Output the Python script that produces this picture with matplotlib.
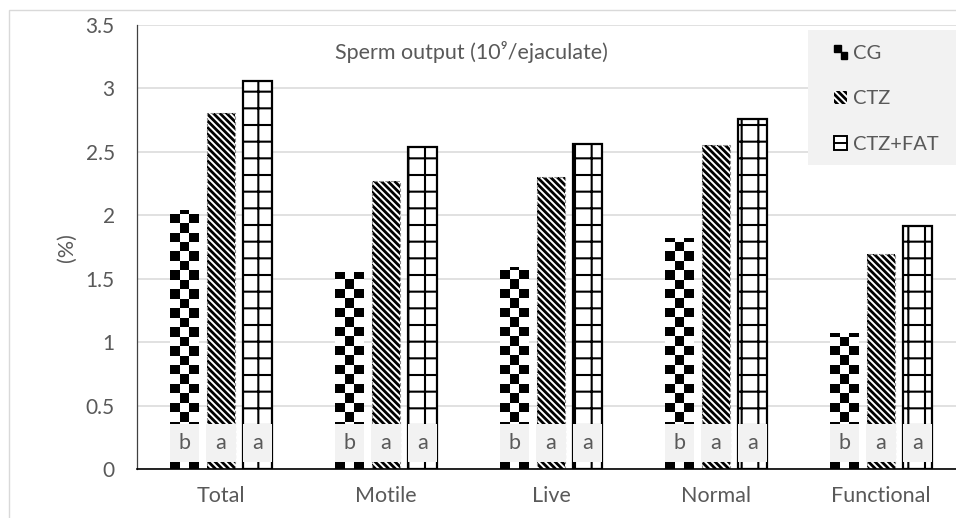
import matplotlib as mpl
mpl.use("Agg")
import matplotlib.pyplot as plt
import numpy as np
from matplotlib.colors import ListedColormap
from matplotlib.patches import Rectangle, Patch
from matplotlib.legend_handler import HandlerBase
from matplotlib.lines import Line2D

# data
CATEGORIES = ["Total", "Motile", "Live", "Normal", "Functional"]
CG = [2.04, 1.556, 1.595, 1.824, 1.071]
CTZ = [2.81, 2.27, 2.30, 2.554, 1.695]
CTZ_FAT = [3.06, 2.535, 2.56, 2.758, 1.918]
SERIES = ["CG", "CTZ", "CTZ+FAT"]
LETTERS = [["b", "a", "a"]] * 5
TITLE = "Sperm output (10\u2079/ejaculate)"

GREY = "#595959"
plt.rcParams["font.family"] = ["Lato", "DejaVu Sans"]
FS = 15.5
STRIPES = "\\" * 5


def hatch_lw(patches, lw):
    for p in patches:
        if hasattr(p, "set_hatch_linewidth"):
            p.set_hatch_linewidth(lw)


W, H = 956, 518
fig = plt.figure(figsize=(W / 100, H / 100), dpi=100)
ax = fig.add_axes([137 / W, 1 - 469.3 / H, (W - 137) / W, (469.3 - 25) / H])

x = np.arange(len(CATEGORIES))
off, bw = 0.2227, 0.173
CHECK_H = 0.0745

# CG: white bars filled with a checkerboard clipped to each bar
cg_bars = ax.bar(x - off, CG, bw, color="white", linewidth=0, zorder=2)
cmap = ListedColormap(["white", "black"])
for bar, h in zip(cg_bars, CG):
    nrow = int(np.ceil(h / CHECK_H))
    board = (np.add.outer(np.arange(nrow), np.arange(3)) + 1) % 2
    x0 = bar.get_x()
    im = ax.imshow(board, cmap=cmap, extent=(x0, x0 + bw, 0, nrow * CHECK_H),
                   origin="lower", aspect="auto", interpolation="nearest", zorder=2.1)
    im.set_clip_path(bar)

# CTZ: dense back-slash stripes, dashed grey outline
plt.rcParams["hatch.linewidth"] = 2.0
ctz_bars = ax.bar(x, CTZ, bw, color="white", edgecolor="black", linewidth=0, hatch=STRIPES, zorder=2)
hatch_lw(ctz_bars, 2.0)
ax.bar(x, CTZ, bw, fill=False, edgecolor="#8c8c8c", linewidth=0.8, linestyle=(0, (3, 2)), zorder=2.2)

# CTZ+FAT: grid hatch with black frame
plt.rcParams["hatch.linewidth"] = 1.5
fat_bars = ax.bar(x + off, CTZ_FAT, bw, color="white", edgecolor="black", linewidth=1.6, hatch="+", zorder=2)
hatch_lw(fat_bars, 1.5)

# letter boxes at the base of each bar
for j, dx in enumerate([-off, 0, off]):
    ax.bar(x + dx, 0.305, 0.178, bottom=0.055, color="#f2f2f2", linewidth=0, zorder=3)
    for i in range(len(CATEGORIES)):
        ax.text(x[i] + dx, 0.205, LETTERS[i][j], ha="center", va="center",
                fontsize=FS, color=GREY, zorder=4)

ax.set_xlim(-0.509, 4.4545)
ax.set_ylim(0, 3.5)
ax.set_yticks(np.arange(0, 3.51, 0.5))
ax.set_yticklabels(["0", "0.5", "1", "1.5", "2", "2.5", "3", "3.5"])
ax.set_xticks(x)
ax.set_xticklabels(CATEGORIES)
ax.tick_params(axis="y", length=0, pad=16, labelsize=15, labelcolor=GREY)
ax.tick_params(axis="x", length=0, pad=12, labelsize=FS, labelcolor=GREY)
ax.yaxis.grid(True, color="#d9d9d9", linewidth=1.1, zorder=0)
ax.set_axisbelow(True)
for s in ["top", "right"]:
    ax.spines[s].set_visible(False)
ax.spines["left"].set_color("#404040")
ax.spines["left"].set_linewidth(0.9)
ax.spines["bottom"].set_color("black")
ax.spines["bottom"].set_linewidth(1.2)
ax.set_ylabel("(%)", fontsize=FS, color=GREY)
ax.yaxis.set_label_coords(-0.073, 0.5)
ax.text(0.408, 0.939, TITLE, transform=ax.transAxes, ha="center", va="center",
        fontsize=FS, color=GREY)

# outer chart border (cropped on right/bottom)
fig.patches.append(Rectangle((9 / W, -0.1), 1.2, 1 - 10 / H + 0.1, transform=fig.transFigure,
                             fill=False, edgecolor="#d9d9d9", linewidth=1.0, zorder=0))
# legend background
fig.patches.append(Rectangle((808 / W, 1 - 165 / H), 0.3, (165 - 30) / H, transform=fig.transFigure,
                             facecolor="#f2f2f2", edgecolor="none", zorder=5))


class CheckerHandler(HandlerBase):
    def create_artists(self, legend, orig, xd, yd, width, height, fontsize, trans):
        s = min(width, height)
        hw = s / 2
        return [Rectangle((-xd, -yd + hw), hw, hw, color="black", transform=trans),
                Rectangle((-xd + hw, -yd), hw, hw, color="black", transform=trans)]


class StripeHandler(HandlerBase):
    def create_artists(self, legend, orig, xd, yd, width, height, fontsize, trans):
        s = min(width, height)
        r = Rectangle((-xd, -yd), s, s, facecolor="white", edgecolor="black",
                      linewidth=0, hatch=STRIPES, transform=trans)
        hatch_lw([r], 2.0)
        return [r]


class BoxHandler(HandlerBase):
    def create_artists(self, legend, orig, xd, yd, width, height, fontsize, trans):
        s = min(width, height)
        r = Rectangle((-xd, -yd), s, s, facecolor="white", edgecolor="black",
                      linewidth=1.4, transform=trans)
        ln = Line2D([-xd, -xd + s], [-yd + s / 2, -yd + s / 2], color="black",
                    linewidth=1.4, transform=trans)
        return [r, ln]


handles = [Patch(label=SERIES[0]), Patch(label=SERIES[1]), Patch(label=SERIES[2])]
leg = fig.legend(handles=handles, labels=SERIES, loc="upper left",
                 bbox_to_anchor=(834 / W, 1 - 45 / H), frameon=False, fontsize=14.5,
                 handlelength=0.66, handleheight=0.66, handletextpad=0.3,
                 labelspacing=1.41, borderpad=0, borderaxespad=0,
                 handler_map={handles[0]: CheckerHandler(), handles[1]: StripeHandler(),
                              handles[2]: BoxHandler()})
leg.set_zorder(6)
for t in leg.get_texts():
    t.set_color(GREY)

fig.savefig("out.png", dpi=100, facecolor="white")
